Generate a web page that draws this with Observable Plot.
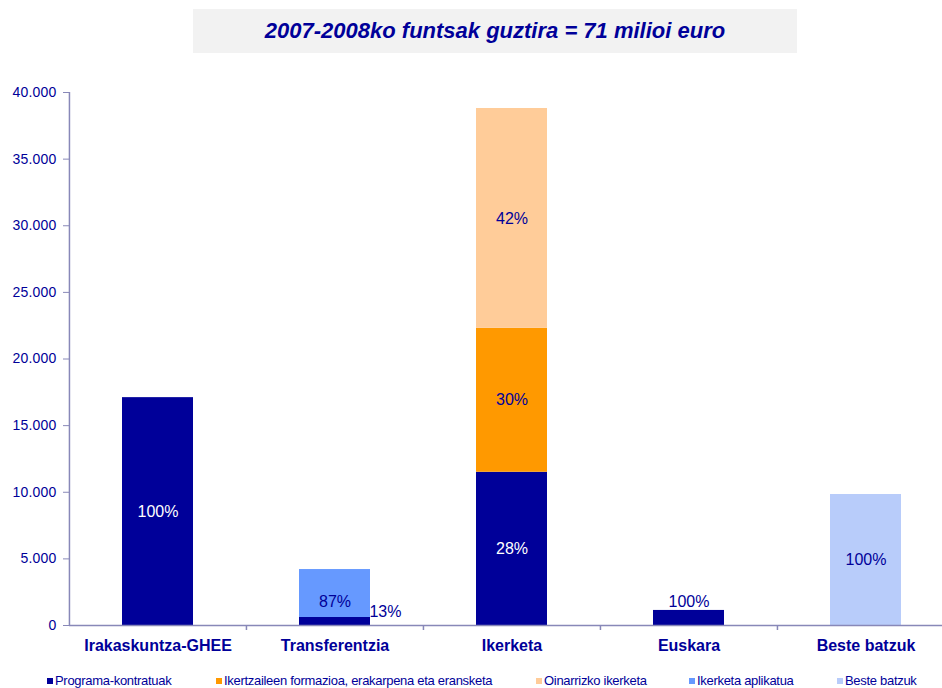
<!DOCTYPE html>
<html>
<head>
<meta charset="utf-8">
<script src="https://cdn.jsdelivr.net/npm/d3@7"></script>
<script src="https://cdn.jsdelivr.net/npm/@observablehq/plot@0.6"></script>
<style>
  html, body { margin: 0; padding: 0; background: #fff; }
  body { width: 942px; height: 688px; position: relative; overflow: hidden; font-family: Arial, "Liberation Sans", sans-serif; }
  #title { position: relative; height: 60px; }
  #title .box { position: absolute; left: 193px; top: 9px; width: 604px; height: 44px; background: #f2f2f2;
    display: flex; align-items: center; justify-content: center;
    font: italic bold 22px Arial, "Liberation Sans", sans-serif; color: #000099; }
  #chart svg { display: block; }
  #legend { position: relative; height: 20px; font: 13px Arial, "Liberation Sans", sans-serif; color: #000099; }
  #legend .item { position: absolute; top: 5px; white-space: nowrap; display: flex; align-items: center; letter-spacing: -0.3px; }
  #legend .sw { width: 6px; height: 6px; margin-right: 2px; }
</style>
</head>
<body>
<div id="title"><div class="box"></div></div>
<div id="chart"></div>
<div id="legend"></div>
<script>
// ---- data ----
const titleText = "2007-2008ko funtsak guztira = 71 milioi euro";
const categories = ["Irakaskuntza-GHEE", "Transferentzia", "Ikerketa", "Euskara", "Beste batzuk"];
const series = ["Programa-kontratuak", "Ikertzaileen formazioa, erakarpena eta eransketa", "Oinarrizko ikerketa", "Ikerketa aplikatua", "Beste batzuk"];
const colors = ["#000099", "#FF9900", "#FFCC99", "#6699FF", "#B8CCFA"];
const programaKontratuak = [17100, 600, 11500, 1130, 0];
const ikertzaileenFormazioa = [0, 0, 10800, 0, 0];
const oinarrizkoIkerketa = [0, 0, 16500, 0, 0];
const ikerketaAplikatua = [0, 3600, 0, 0, 0];
const besteBatzuk = [0, 0, 0, 0, 9830];
const programaLabels = ["100%", "13%", "28%", "100%", ""];
const ikertzaileenLabels = ["", "", "30%", "", ""];
const oinarrizkoLabels = ["", "", "42%", "", ""];
const aplikatuaLabels = ["", "87%", "", "", ""];
const besteLabels = ["", "", "", "", "100%"];
// label placement: "in" = centred in segment, "right" = beside top of segment, "above" = above segment
const programaPlacement = ["in", "right", "in", "above", "in"];
const yTicks = [0, 5000, 10000, 15000, 20000, 25000, 30000, 35000, 40000];

// ---- build table ----
const seriesValues = [programaKontratuak, ikertzaileenFormazioa, oinarrizkoIkerketa, ikerketaAplikatua, besteBatzuk];
const seriesLabels = [programaLabels, ikertzaileenLabels, oinarrizkoLabels, aplikatuaLabels, besteLabels];
const rows = [];
series.forEach((s, si) => {
  categories.forEach((c, ci) => {
    const v = seriesValues[si][ci];
    if (v > 0) rows.push({category: c, series: s, value: v, label: seriesLabels[si][ci],
      placement: si === 0 ? programaPlacement[ci] : "in"});
  });
});

document.querySelector("#title .box").textContent = titleText;

const fmt = d3.formatLocale({decimal: ",", thousands: ".", grouping: [3], currency: ["", ""]}).format(",");
const axisColor = "#8888b8";
const textColor = "#000099";
const xRange = [69, 954.5];
const step = (xRange[1] - xRange[0]) / categories.length;
const bandHalf = step * 0.4 / 2;

const inRows = rows.filter(d => d.placement === "in" && d.label);

const stackOpts = {x: "category", y: "value", z: "series", order: series};

const chart = Plot.plot({
  width: 942,
  height: 608,
  marginTop: 32,
  marginBottom: 43,
  marginLeft: 69,
  marginRight: 0,
  style: {fontFamily: "Arial, 'Liberation Sans', sans-serif", background: "#fff"},
  x: {domain: categories, range: xRange, paddingInner: 0.6, paddingOuter: 0.3, label: null},
  y: {domain: [0, 40000], label: null},
  color: {domain: series, range: colors},
  marks: [
    Plot.barY(rows, Plot.stackY({...stackOpts, fill: "series"})),
    Plot.text(inRows, Plot.stackY({...stackOpts, text: "label",
      fill: d => d.series === series[0] ? "#ffffff" : textColor, fontSize: 16})),
    Plot.text(rows, Plot.stackY2({...stackOpts, filter: d => d.placement === "right", text: "label",
      fill: textColor, fontSize: 16, textAnchor: "start", dx: bandHalf - 1, dy: -6})),
    Plot.text(rows, Plot.stackY2({...stackOpts, filter: d => d.placement === "above", text: "label",
      fill: textColor, fontSize: 16, dy: -9})),
    Plot.ruleY([0], {stroke: axisColor, strokeWidth: 1.5}),
    Plot.ruleX([categories[0]], {dx: -step / 2, y1: 0, y2: 40000, stroke: axisColor, strokeWidth: 1.5}),
    Plot.ruleX(categories.slice(1), {dx: -step / 2, y1: 0, y2: 0, insetBottom: -5, stroke: axisColor, strokeWidth: 1.5}),
    Plot.axisY({ticks: yTicks, tickFormat: fmt, tickSize: 6, tickPadding: 7, stroke: axisColor, fill: textColor,
      fontSize: 14, label: null}),
    Plot.axisX({tickSize: 0, tickPadding: 14, fill: textColor, fontSize: 16, fontWeight: "bold", label: null})
  ]
});
document.getElementById("chart").appendChild(chart);
chart.querySelectorAll("g[aria-label='y-axis tick label'] text").forEach(t => t.style.letterSpacing = "0.2px");

// ---- legend ----
const legendLeft = [47, 216, 536, 689, 837];
const legend = document.getElementById("legend");
series.forEach((s, i) => {
  const item = document.createElement("div");
  item.className = "item";
  item.style.left = legendLeft[i] + "px";
  const sw = document.createElement("span");
  sw.className = "sw";
  sw.style.background = colors[i];
  const label = document.createElement("span");
  label.textContent = s;
  item.appendChild(sw);
  item.appendChild(label);
  legend.appendChild(item);
});
</script>
</body>
</html>
